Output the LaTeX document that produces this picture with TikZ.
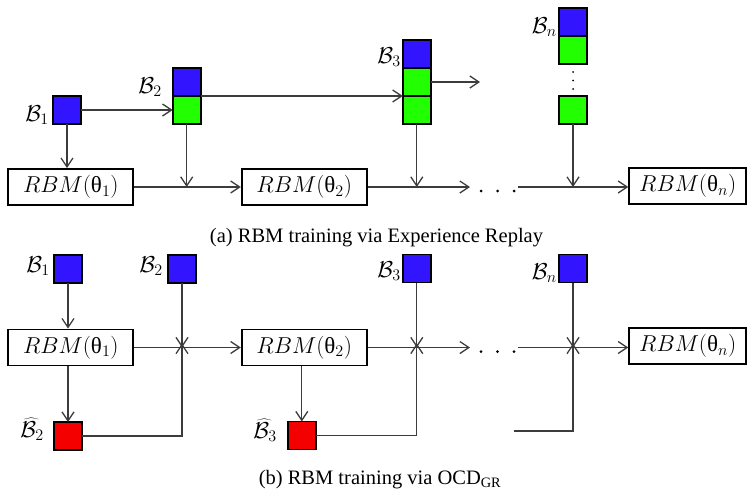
\RequirePackage{fix-cm}
\documentclass[tikz,border=0pt]{standalone}
\usepackage{fontspec}
\setmainfont{Liberation Serif}
\newfontfamily\thfont{Liberation Serif}
\usetikzlibrary{arrows.meta}
\definecolor{myblue}{RGB}{51,20,255}
\definecolor{mygreen}{RGB}{34,255,0}
\definecolor{myred}{RGB}{245,0,0}
\definecolor{linec}{RGB}{60,60,60}
\newcommand{\mfont}{\fontsize{23}{27}\selectfont}
\newcommand{\thv}{\mbox{\thfont θ}}
\begin{document}
\begin{tikzpicture}[x=1pt,y=-1pt,
  blk/.style={draw=black, line width=1.6pt, minimum size=28pt, inner sep=0pt, outer sep=0pt},
  blu/.style={blk, fill=myblue},
  grn/.style={blk, fill=mygreen},
  rd/.style={blk, fill=myred},
  rbm/.style={draw=black, line width=1.8pt, minimum width=125pt, minimum height=36pt, inner sep=0pt, font=\mfont},
  lbl/.style={inner sep=0pt, font=\mfont},
  conn/.style={draw=linec, line width=1.3pt},
  arr/.style={conn, -{Straight Barb[length=9pt,width=12pt,line width=1.3pt]}},
  dotc/.style={fill=black, inner sep=0pt, minimum size=3pt, circle},
  captxt/.style={font=\fontsize{20.5}{24}\selectfont, inner sep=0pt}]
\useasboundingbox (0,0) rectangle (747,493);

% ---------------- (a) ----------------
\node[blu] (B1a) at (67,110) {};
\node[lbl, anchor=south east] (L1a) at (49,125) {$\mathcal{B}_1$};

\node[blu] (B2ab) at (186.7,82) {};
\node[grn] (B2ag) at (186.7,110) {};
\node[lbl, anchor=south east] (L2a) at (162,97) {$\mathcal{B}_2$};

\node[blu] (B3ab) at (416.8,54) {};
\node[grn] (B3ag1) at (416.8,82) {};
\node[grn] (B3ag2) at (416.8,110) {};
\node[lbl, anchor=south east] (L3a) at (401,67) {$\mathcal{B}_3$};

\node[blu] (Bnab) at (573,22) {};
\node[grn] (Bnag1) at (573,50) {};
\node[dotc, minimum size=2pt] (da1) at (573,72) {};
\node[dotc, minimum size=2pt] (da2) at (573,80.5) {};
\node[dotc, minimum size=2pt] (da3) at (573,89) {};
\node[grn] (Bnag2) at (573,110) {};
\node[lbl, anchor=south east] (Lna) at (557,37) {$\mathcal{B}_n$};

\node[rbm] (R1a) at (70.8,187) {$RBM(\thv_1)$};
\node[rbm] (R2a) at (304.2,187) {$RBM(\thv_2)$};
\node[rbm, minimum width=117pt] (Rna) at (687.7,186) {$RBM(\thv_n)$};

\coordinate (Ea1) at (470,187);
\coordinate (Sa1) at (518,187);
\node[dotc] (dd1) at (481,191) {};
\node[dotc] (dd2) at (497.5,191) {};
\node[dotc] (dd3) at (514,191) {};
\coordinate (Ea3) at (480,82);

\draw[arr] (B1a.east) -- (B2ag.west);
\draw[arr] (B2ag.north east) -- (B3ag2.north west);
\draw[arr] (B3ag1.east) -- (Ea3);
\draw[arr] (B1a.south) -- (B1a.south |- R1a.north);
\draw[arr] (R1a.east) -- (R2a.west);
\draw[arr] (B2ag.south) -- (B2ag.south |- R1a.east);
\draw[arr] (R2a.east) -- (Ea1);
\draw[arr] (B3ag2.south) -- (B3ag2.south |- Ea1);
\draw[arr] (Sa1) -- (Sa1 -| Rna.west);
\draw[arr] (Bnag2.south) -- (Bnag2.south |- Sa1);

\node[captxt] (capa) at (376.5,238) {(a) RBM training via Experience Replay};

% ---------------- (b) ----------------
\node[blu] (B1b) at (68,269) {};
\node[lbl, anchor=south east] (L1b) at (50,276) {$\mathcal{B}_1$};
\node[blu] (B2b) at (182,269) {};
\node[lbl, anchor=south east] (L2b) at (163,276) {$\mathcal{B}_2$};
\node[blu] (B3b) at (416.8,268.5) {};
\node[lbl, anchor=south east] (L3b) at (401,281) {$\mathcal{B}_3$};
\node[blu] (Bnb) at (573,268.5) {};
\node[lbl, anchor=south east] (Lnb) at (557,283) {$\mathcal{B}_n$};

\node[rbm] (R1b) at (70.8,347.5) {$RBM(\thv_1)$};
\node[rbm] (R2b) at (304.2,347.5) {$RBM(\thv_2)$};
\node[rbm, minimum width=117pt] (Rnb) at (687.7,346) {$RBM(\thv_n)$};

\node[rd] (H2) at (68,436) {};
\node[lbl, anchor=south east] (LH2) at (44,441) {$\widehat{\mathcal{B}}_2$};
\node[rd] (H3) at (301.8,435.5) {};
\node[lbl, anchor=south east] (LH3) at (277,442) {$\widehat{\mathcal{B}}_3$};

\coordinate (J1) at (182,347.5);
\coordinate (J2) at (416.8,347.5);
\coordinate (J3) at (573,347.5);
\coordinate (Eb1) at (470,347.5);
\coordinate (Sb1) at (518,347.5);
\coordinate (Fr) at (514,431);
\node[dotc] (de1) at (481,351.5) {};
\node[dotc] (de2) at (497.5,351.5) {};
\node[dotc] (de3) at (514,351.5) {};

\draw[arr] (B1b.south) -- (B1b.south |- R1b.north);
\draw[arr] (B1b.south |- R1b.south) -- (H2.north);
\draw[arr] (H3.north |- R2b.south) -- (H3.north);
\draw[arr] (R1b.east) -- (R2b.west);
\draw[arr] (B2b.south) -- (J1);
\draw[arr] (H2.east) -- (H2.east -| J1) -- ([yshift=4pt]J1);
\draw[arr] (R2b.east) -- (Eb1);
\draw[arr] (B3b.south) -- (J2);
\draw[arr] (H3.east) -- (H3.east -| J2) -- ([yshift=4pt]J2);
\draw[arr] (Sb1) -- (Sb1 -| Rnb.west);
\draw[arr] (Bnb.south) -- (J3);
\draw[arr] (Fr) -- (Fr -| J3) -- ([yshift=4pt]J3);

\node[captxt] (capb) at (380,480) {(b) RBM training via OCD\textsubscript{GR}};
\end{tikzpicture}
\end{document}
